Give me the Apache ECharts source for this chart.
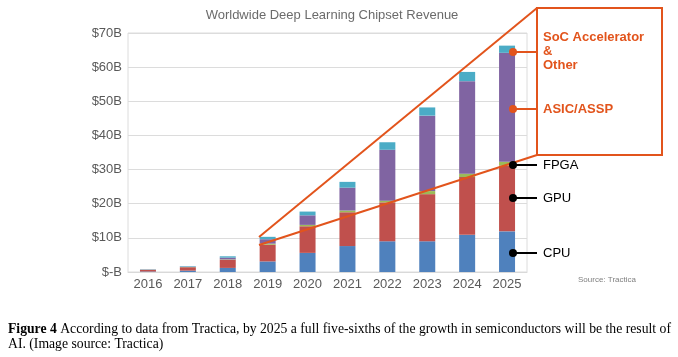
<!DOCTYPE html>
<html><head><meta charset="utf-8">
<script src="https://cdn.jsdelivr.net/npm/echarts@6/dist/echarts.min.js"></script>
<style>html,body{margin:0;padding:0;background:#fff}#c{width:678px;height:357px}</style>
</head><body><div id="c"></div>
<script>
const years = ['2016','2017','2018','2019','2020','2021','2022','2023','2024','2025'];
const cpu  = [0.15, 0.4, 1.2, 3.1, 5.6, 7.6, 9.0, 9.0, 10.9, 11.9];
const gpu  = [0.5, 1.0, 2.4, 4.9, 7.8, 9.9, 11.4, 13.8, 16.9, 19.3];
const fpga = [0.02, 0.05, 0.1, 0.3, 0.4, 0.5, 0.5, 0.9, 1.0, 1.1];
const asic = [0.05, 0.1, 0.5, 1.3, 2.8, 6.7, 14.9, 22.1, 27.1, 31.9];
const soc  = [0.08, 0.15, 0.4, 0.7, 1.1, 1.7, 2.2, 2.4, 2.7, 2.1];
const yTicks = [0, 10, 20, 30, 40, 50, 60, 70];

const ORANGE = '#e2541c';
const chart = echarts.init(document.getElementById('c'));
const mk = (name, data, color) => ({name, type:'bar', stack:'t', data, barWidth:16,
  itemStyle:{color}, emphasis:{disabled:true}});
const txt = (x, y, text, opt) => ({type:'text', x, y, z:100, style:Object.assign({text, fontFamily:'Liberation Sans', fontSize:13, fill:'#000', verticalAlign:'middle'}, opt||{})});
const ln = (x1,y1,x2,y2,c) => ({type:'line', z:100, shape:{x1,y1,x2,y2}, style:{stroke:c, lineWidth:2}});
const dot = (cx,cy,c) => ({type:'circle', z:101, shape:{cx,cy,r:4}, style:{fill:c}});
chart.setOption({
  animation:false,
  title:{text:'Worldwide Deep Learning Chipset Revenue', left:327, top:4, textAlign:'center',
    textStyle:{fontFamily:'Liberation Sans', fontSize:13, fontWeight:'normal', color:'#6b6b6b'}},
  grid:{left:128, right:151, top:33, bottom:85, show:true, borderColor:'#dcdcdc', borderWidth:1},
  xAxis:{type:'category', data:years, axisTick:{show:false},
    axisLine:{lineStyle:{color:'#d9d9d9'}},
    axisLabel:{fontFamily:'Liberation Sans', fontSize:13, color:'#595959', margin:6}},
  yAxis:{type:'value', min:yTicks[0], max:yTicks[yTicks.length-1], interval:10,
    axisLine:{show:false}, axisTick:{show:false},
    splitLine:{lineStyle:{color:'#dcdcdc'}},
    axisLabel:{fontFamily:'Liberation Sans', fontSize:13, color:'#595959', margin:6,
      formatter:v => v===0 ? '$-B' : '$'+v+'B'}},
  series:[mk('CPU',cpu,'#4f81bd'), mk('GPU',gpu,'#c0504d'), mk('FPGA',fpga,'#9bbb59'),
          mk('ASIC/ASSP',asic,'#8064a2'), mk('SoC Accelerator & Other',soc,'#4bacc6')],
  graphic:[
    ln(259,237,537,8,ORANGE),
    ln(259,245,537,155,ORANGE),
    {type:'rect', z:100, shape:{x:537,y:8,width:125,height:147}, style:{fill:'#fff', stroke:ORANGE, lineWidth:2}},
    ln(513,52,537,52,ORANGE), ln(513,109,537,109,ORANGE),
    dot(513,52,ORANGE), dot(513,109,ORANGE),
    ln(513,165,537,165,'#000'), ln(513,198,537,198,'#000'), ln(513,253,537,253,'#000'),
    dot(513,165,'#000'), dot(513,198,'#000'), dot(513,253,'#000'),
    txt(543, 37, 'SoC Accelerator', {fill:ORANGE, fontWeight:'bold'}),
    txt(543, 51, '&', {fill:ORANGE, fontWeight:'bold'}),
    txt(543, 65, 'Other', {fill:ORANGE, fontWeight:'bold'}),
    txt(543, 109, 'ASIC/ASSP', {fill:ORANGE, fontWeight:'bold'}),
    txt(543, 165, 'FPGA'),
    txt(543, 198, 'GPU'),
    txt(543, 253, 'CPU'),
    txt(578, 280, 'Source: Tractica', {fontSize:8, fill:'#7f7f7f'}),
    {type:'text', x:8, y:329, z:100, style:{
      text:'{b|Figure 4} According to data from Tractica, by 2025 a full five-sixths of the growth in semiconductors will be the result of',
      fontFamily:'Liberation Serif', fontSize:13.7, fill:'#000', verticalAlign:'middle',
      rich:{b:{fontFamily:'Liberation Serif', fontSize:13.7, fontWeight:'bold'}}}},
    {type:'text', x:8, y:344, z:100, style:{text:'AI. (Image source: Tractica)',
      fontFamily:'Liberation Serif', fontSize:13.7, fill:'#000', verticalAlign:'middle'}}
  ]
});
</script></body></html>
